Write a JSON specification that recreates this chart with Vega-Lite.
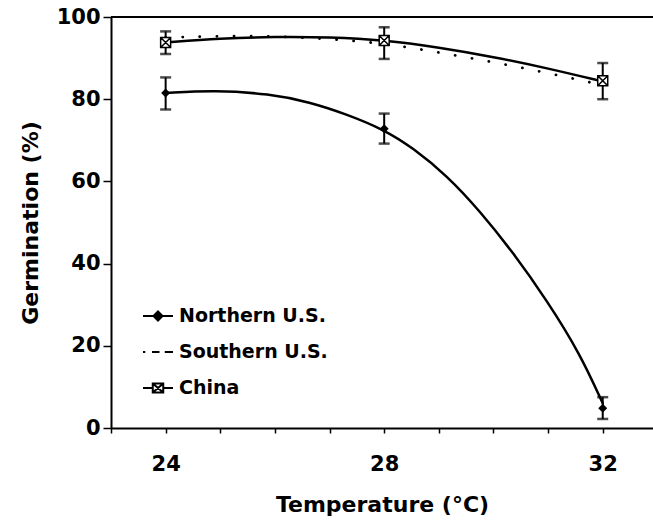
{
  "$schema": "https://vega.github.io/schema/vega-lite/v6.json",
  "width": 542,
  "height": 411,
  "autosize": {"type": "none"},
  "padding": {"left": 111, "top": 17, "right": 0, "bottom": 95},
  "background": "white",
  "config": {
    "view": {"stroke": null},
    "axis": {
      "grid": false,
      "domainColor": "black",
      "domainWidth": 2,
      "tickColor": "black",
      "tickWidth": 1.5,
      "labelFont": "DejaVu Sans",
      "labelFontWeight": "bold",
      "labelFontSize": 21,
      "labelColor": "black",
      "titleFont": "DejaVu Sans",
      "titleFontWeight": "bold",
      "titleFontSize": 22,
      "titleColor": "black"
    }
  },
  "datasets": {
    "pts": [
      {"series": "Northern U.S.", "temp": 24, "mean": 81.5, "lo": 77.5, "hi": 85.3},
      {"series": "Northern U.S.", "temp": 28, "mean": 72.8, "lo": 69.2, "hi": 76.5},
      {"series": "Northern U.S.", "temp": 32, "mean": 4.8, "lo": 2.2, "hi": 7.5},
      {"series": "China", "temp": 24, "mean": 93.8, "lo": 91.0, "hi": 96.5},
      {"series": "China", "temp": 28, "mean": 94.3, "lo": 89.8, "hi": 97.5},
      {"series": "China", "temp": 32, "mean": 84.5, "lo": 80.0, "hi": 88.8}
    ],
    "curves": [
      {"series": "Northern U.S.", "temp": 24, "value": 81.5},
      {"series": "Northern U.S.", "temp": 24.9, "value": 82.2},
      {"series": "Northern U.S.", "temp": 25.9, "value": 81.3},
      {"series": "Northern U.S.", "temp": 26.64, "value": 79.3},
      {"series": "Northern U.S.", "temp": 27.3, "value": 76.4},
      {"series": "Northern U.S.", "temp": 28, "value": 72.6},
      {"series": "Northern U.S.", "temp": 28.52, "value": 68.2},
      {"series": "Northern U.S.", "temp": 29.15, "value": 61.4},
      {"series": "Northern U.S.", "temp": 29.75, "value": 52.8},
      {"series": "Northern U.S.", "temp": 30.36, "value": 42.7},
      {"series": "Northern U.S.", "temp": 30.98, "value": 31.0},
      {"series": "Northern U.S.", "temp": 31.58, "value": 18.2},
      {"series": "Northern U.S.", "temp": 32, "value": 6.0},
      {"series": "China", "temp": 24, "value": 93.8},
      {"series": "China", "temp": 25, "value": 94.8},
      {"series": "China", "temp": 26, "value": 95.2},
      {"series": "China", "temp": 27, "value": 95.1},
      {"series": "China", "temp": 28, "value": 94.4},
      {"series": "China", "temp": 29, "value": 92.6},
      {"series": "China", "temp": 30, "value": 90.3},
      {"series": "China", "temp": 31, "value": 87.5},
      {"series": "China", "temp": 32, "value": 84.3},
      {"series": "Southern U.S.", "temp": 24, "value": 95.0},
      {"series": "Southern U.S.", "temp": 25, "value": 95.4},
      {"series": "Southern U.S.", "temp": 26, "value": 95.3},
      {"series": "Southern U.S.", "temp": 27, "value": 94.7},
      {"series": "Southern U.S.", "temp": 28, "value": 93.6},
      {"series": "Southern U.S.", "temp": 29, "value": 91.4},
      {"series": "Southern U.S.", "temp": 30, "value": 89.0},
      {"series": "Southern U.S.", "temp": 31, "value": 86.4},
      {"series": "Southern U.S.", "temp": 32, "value": 83.4}
    ],
    "legendItems": [
      {"item": "Northern U.S."},
      {"item": "Southern U.S."},
      {"item": "China"}
    ]
  },
  "layer": [
    {
      "data": {"values": [{"top": 100}]},
      "mark": {"type": "rule", "stroke": "black", "strokeWidth": 2},
      "encoding": {"y": {"field": "top", "type": "quantitative"}}
    },
    {
      "data": {"name": "curves"},
      "transform": [{"filter": "datum.series !== 'Southern U.S.'"}],
      "mark": {"type": "line", "color": "black", "strokeWidth": 2.5, "interpolate": "basis", "strokeCap": "round"},
      "encoding": {
        "x": {
          "field": "temp", "type": "quantitative",
          "scale": {"domain": [23, 32.92], "nice": false, "zero": false},
          "axis": {
            "title": "Temperature (°C)",
            "values": [23, 24, 25, 26, 27, 28, 29, 30, 31, 32],
            "labelExpr": "datum.value % 4 == 0 ? datum.label : ''",
            "tickSize": 5,
            "labelPadding": 20,
            "titlePadding": 20,
            "labelFlush": false
          }
        },
        "y": {
          "field": "value", "type": "quantitative",
          "scale": {"domain": [0, 100], "nice": false},
          "axis": {
            "title": "Germination (%)",
            "values": [0, 20, 40, 60, 80, 100],
            "tickSize": 8,
            "labelPadding": 3,
            "titlePadding": 14
          }
        },
        "detail": {"field": "series", "type": "nominal"}
      }
    },
    {
      "data": {"name": "curves"},
      "transform": [{"filter": "datum.series === 'Southern U.S.'"}],
      "mark": {"type": "line", "color": "black", "strokeWidth": 2.8, "interpolate": "basis", "strokeCap": "round", "strokeDash": [0.1, 17]},
      "encoding": {
        "x": {"field": "temp", "type": "quantitative"},
        "y": {"field": "value", "type": "quantitative"}
      }
    },
    {
      "data": {"name": "pts"},
      "mark": {"type": "rule", "color": "black", "strokeWidth": 2},
      "encoding": {
        "x": {"field": "temp", "type": "quantitative"},
        "y": {"field": "lo", "type": "quantitative"},
        "y2": {"field": "hi"}
      }
    },
    {
      "data": {"name": "pts"},
      "mark": {"type": "tick", "orient": "horizontal", "color": "black", "size": 11, "thickness": 2.5},
      "encoding": {
        "x": {"field": "temp", "type": "quantitative"},
        "y": {"field": "lo", "type": "quantitative"}
      }
    },
    {
      "data": {"name": "pts"},
      "mark": {"type": "tick", "orient": "horizontal", "color": "black", "size": 11, "thickness": 2.5},
      "encoding": {
        "x": {"field": "temp", "type": "quantitative"},
        "y": {"field": "hi", "type": "quantitative"}
      }
    },
    {
      "data": {"name": "pts"},
      "transform": [{"filter": "datum.series === 'Northern U.S.'"}],
      "mark": {"type": "point", "shape": "diamond", "filled": true, "color": "black", "size": 80, "opacity": 1},
      "encoding": {
        "x": {"field": "temp", "type": "quantitative"},
        "y": {"field": "mean", "type": "quantitative"}
      }
    },
    {
      "data": {"name": "pts"},
      "transform": [{"filter": "datum.series === 'China'"}],
      "mark": {"type": "point", "shape": "M-1,-1H1V1H-1ZM-1,-1L1,1M1,-1L-1,1", "filled": false, "stroke": "black", "fill": "white", "strokeWidth": 1.5, "size": 100, "opacity": 1},
      "encoding": {
        "x": {"field": "temp", "type": "quantitative"},
        "y": {"field": "mean", "type": "quantitative"}
      }
    },
    {
      "data": {"name": "legendItems"},
      "mark": {"type": "point", "filled": false, "color": "black", "size": 0, "opacity": 1},
      "encoding": {
        "shape": {
          "field": "item", "type": "nominal",
          "scale": {
            "domain": ["Northern U.S.", "Southern U.S.", "China"],
            "range": [
              "M-1,0H1M0,-0.3L0.3,0L0,0.3L-0.3,0ZM0,-0.15L0.15,0L0,0.15L-0.15,0Z",
              "M-1,0H-0.85M-0.4,0H0.1M0.45,0H1",
              "M-1,0H-0.35M0.35,0H1M-0.35,-0.3H0.35V0.3H-0.35ZM-0.35,-0.3L0.35,0.3M0.35,-0.3L-0.35,0.3"
            ]
          },
          "legend": {
            "title": null,
            "orient": "none",
            "legendX": 31,
            "legendY": 283,
            "padding": 0,
            "symbolSize": 900,
            "symbolStrokeWidth": 2,
            "symbolStrokeColor": "black",
            "symbolOpacity": 1,
            "rowPadding": 10,
            "labelOffset": 5,
            "labelFont": "DejaVu Sans",
            "labelFontWeight": "bold",
            "labelFontSize": 19,
            "labelColor": "black",
            "labelLimit": 300
          }
        }
      }
    }
  ]
}
